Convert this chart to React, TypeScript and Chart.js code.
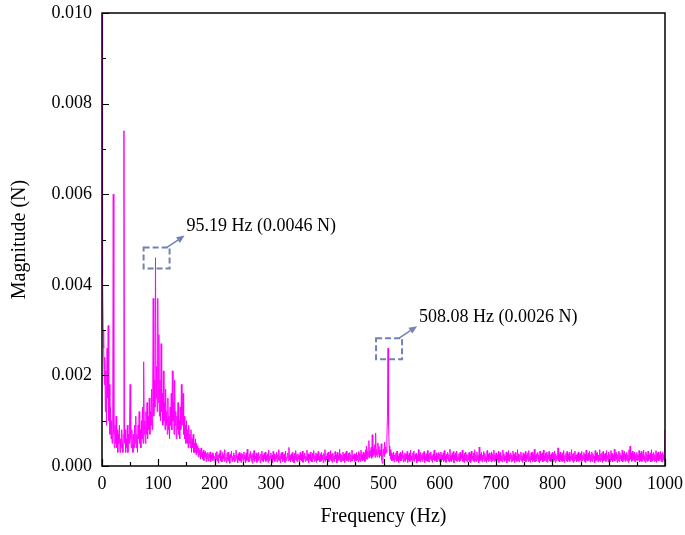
import { useEffect, useRef } from "react";
import { Chart, registerables } from "chart.js";

Chart.register(...registerables);

// Frequency bins (Hz) are spaced FREQ_STEP_HZ apart starting at 0 Hz
const FREQ_STEP_HZ = 1;
// Magnitudes are written in units of 1e-4 N
const MAG_UNIT = 1e-4;

const MAG_0_49 = [110, 42, 30, 26, 18, 24, 12, 21, 9, 26, 15, 31, 10, 18, 7, 13, 6, 10, 5, 8, 60, 7, 4, 9, 5, 11, 4, 8, 3, 7, 5, 9, 3, 6, 4, 8, 5, 3, 7, 74, 5, 8, 3, 6, 4, 9, 3, 7, 5, 10];
const MAG_50_99 = [18, 6, 4, 8, 5, 3, 7, 4, 9, 5, 11, 4, 7, 3, 9, 6, 12, 5, 8, 4, 10, 6, 13, 5, 23, 7, 10, 5, 12, 7, 14, 6, 11, 8, 15, 7, 12, 9, 17, 8, 14, 37, 11, 19, 13, 46, 15, 22, 12, 37];
const MAG_100_149 = [14, 29, 11, 19, 10, 27, 12, 16, 9, 21, 10, 14, 8, 17, 9, 12, 7, 15, 8, 11, 6, 13, 9, 16, 8, 21, 10, 14, 7, 19, 9, 12, 6, 11, 8, 14, 7, 10, 6, 13, 8, 18, 9, 12, 16, 7, 11, 6, 9, 5];
const MAG_150_199 = [10, 5, 8, 4, 9, 5, 7, 4, 8, 3, 6, 4, 7, 3, 5, 3, 6, 2.5, 5, 3, 4.5, 2, 4, 2.5, 3.5, 1.5, 4, 2, 3, 1.5, 3.5, 1.2, 3, 2, 3.2, 1, 2.8, 1.6, 3, 1.1, 2.6, 1.8, 3.1, 0.9, 2.4, 1.5, 2.9, 1.2, 2.5, 1.7];
const MAG_200_249 = [2.1, 0.8, 2.9, 1.4, 3.2, 1.1, 2.4, 0.7, 2.7, 1.9, 3.4, 1.2, 2.2, 0.9, 3.0, 1.6, 2.5, 1.0, 3.6, 1.3, 2.0, 0.8, 2.8, 1.5, 3.1, 1.1, 2.3, 0.6, 2.6, 1.8, 3.3, 1.0, 2.1, 1.4, 2.9, 0.9, 2.4, 1.2, 3.5, 1.7, 2.2, 0.7, 2.7, 1.3, 3.0, 1.1, 2.5, 0.8, 2.8, 1.6];
const MAG_250_299 = [2.6, 1.0, 3.1, 1.5, 2.3, 0.7, 2.9, 1.2, 3.7, 1.4, 2.0, 0.9, 2.7, 1.8, 3.2, 1.1, 2.4, 0.6, 2.8, 1.3, 3.4, 1.0, 2.2, 1.6, 2.9, 0.8, 2.5, 1.2, 3.0, 1.9, 2.1, 0.7, 2.6, 1.4, 3.3, 1.1, 2.4, 0.9, 2.8, 1.5, 3.1, 1.0, 2.3, 1.3, 2.7, 0.8, 3.5, 1.2, 2.2, 1.7];
const MAG_300_349 = [2.9, 1.1, 2.4, 0.8, 3.2, 1.5, 2.6, 1.0, 2.1, 1.7, 3.0, 0.9, 2.5, 1.3, 3.6, 1.2, 2.2, 0.7, 2.8, 1.6, 3.1, 1.0, 2.4, 1.4, 2.7, 0.8, 3.3, 1.2, 2.0, 1.8, 2.9, 1.1, 4.1, 1.3, 2.3, 0.9, 2.6, 1.5, 3.0, 1.0, 2.2, 0.7, 2.8, 1.4, 3.4, 1.2, 2.5, 0.9, 2.7, 1.6];
const MAG_350_399 = [2.3, 0.9, 3.0, 1.4, 2.6, 1.1, 3.3, 0.8, 2.4, 1.7, 2.9, 1.0, 2.2, 1.3, 3.5, 1.2, 2.7, 0.7, 2.5, 1.5, 3.1, 1.1, 2.0, 0.9, 2.8, 1.6, 3.4, 1.0, 2.3, 1.3, 2.9, 0.8, 2.6, 1.2, 3.2, 1.4, 2.1, 0.9, 2.7, 1.1, 3.0, 1.5, 2.4, 0.7, 2.8, 1.3, 3.6, 1.0, 2.2, 1.4];
const MAG_400_449 = [2.8, 1.2, 3.1, 0.9, 2.4, 1.5, 3.4, 1.1, 2.6, 0.8, 2.9, 1.3, 2.2, 1.0, 3.2, 1.6, 2.5, 0.7, 3.0, 1.2, 2.3, 1.4, 3.7, 1.0, 2.7, 0.9, 2.4, 1.3, 3.1, 1.1, 2.6, 0.8, 2.9, 1.5, 3.3, 1.2, 2.1, 1.0, 2.8, 1.4, 3.0, 0.9, 2.5, 1.2, 3.5, 1.1, 2.3, 1.6, 2.7, 1.0];
const MAG_450_499 = [2.6, 1.1, 3.0, 1.4, 2.4, 0.9, 3.2, 1.3, 2.8, 1.0, 3.5, 1.5, 2.5, 1.2, 3.1, 1.4, 2.7, 1.0, 3.6, 1.6, 4.4, 1.5, 3.2, 2.0, 5.6, 1.8, 3.4, 2.2, 4.1, 1.7, 6.9, 2.1, 3.8, 2.5, 4.7, 1.9, 7.3, 2.4, 3.6, 2.0, 5.1, 2.6, 4.3, 1.8, 3.5, 2.3, 4.9, 1.4, 0.6, 2.2];
const MAG_500_549 = [3.8, 2.1, 5.3, 2.7, 4.2, 3.0, 6.1, 11, 26, 9, 4.4, 2.3, 3.6, 1.5, 2.9, 1.1, 2.5, 1.3, 3.1, 0.9, 2.4, 1.6, 2.8, 1.0, 3.3, 1.2, 2.2, 0.8, 2.7, 1.4, 3.0, 1.1, 2.5, 1.7, 3.4, 0.9, 2.3, 1.2, 2.9, 1.0, 2.6, 1.5, 3.2, 0.8, 2.4, 1.3, 2.8, 1.0, 3.5, 1.4];
const MAG_550_599 = [2.2, 0.9, 2.9, 1.3, 3.3, 1.0, 2.5, 1.6, 2.8, 0.7, 2.3, 1.2, 3.6, 1.1, 2.6, 0.9, 3.0, 1.4, 2.4, 1.0, 2.9, 1.5, 3.2, 0.8, 2.1, 1.3, 2.7, 1.1, 3.4, 1.0, 2.5, 0.9, 2.8, 1.6, 3.1, 1.2, 2.3, 0.8, 2.6, 1.4, 3.5, 1.1, 2.2, 1.3, 2.9, 0.9, 2.4, 1.5, 3.0, 1.0];
const MAG_600_649 = [2.7, 1.2, 3.1, 0.9, 2.4, 1.4, 2.9, 1.0, 3.4, 1.3, 2.2, 0.8, 2.6, 1.6, 3.0, 1.1, 2.5, 0.9, 3.7, 1.2, 2.3, 1.0, 2.8, 1.5, 3.2, 0.7, 2.4, 1.3, 2.9, 1.1, 3.3, 1.0, 2.1, 1.4, 2.7, 0.9, 3.0, 1.2, 2.5, 1.6, 3.5, 1.0, 2.3, 0.8, 2.8, 1.3, 3.1, 1.1, 2.6, 0.9];
const MAG_650_699 = [2.4, 1.3, 3.0, 1.0, 2.7, 0.8, 3.3, 1.5, 2.2, 1.1, 2.9, 0.9, 3.6, 1.2, 2.5, 1.0, 3.1, 1.4, 2.3, 0.7, 4.2, 1.1, 2.6, 1.3, 3.0, 0.9, 2.4, 1.6, 3.2, 1.0, 2.8, 1.2, 2.1, 0.8, 3.4, 1.3, 2.6, 1.0, 2.9, 1.5, 2.3, 0.9, 3.1, 1.1, 2.7, 1.4, 3.5, 1.0, 2.5, 1.2];
const MAG_700_749 = [2.9, 1.0, 2.4, 1.4, 3.2, 0.8, 2.6, 1.2, 3.0, 1.1, 2.3, 0.9, 3.5, 1.5, 2.7, 1.0, 2.2, 1.3, 3.1, 0.7, 2.8, 1.2, 3.4, 1.0, 2.5, 1.6, 2.9, 0.9, 2.4, 1.1, 3.3, 1.3, 2.6, 0.8, 3.0, 1.4, 2.2, 1.0, 3.6, 1.2, 2.7, 0.9, 2.5, 1.5, 3.1, 1.1, 2.3, 0.8, 2.9, 1.3];
const MAG_750_799 = [2.6, 1.1, 3.2, 0.9, 2.4, 1.5, 2.8, 1.0, 3.4, 1.2, 2.1, 0.8, 2.9, 1.4, 3.1, 1.0, 2.5, 1.3, 3.7, 0.9, 2.3, 1.1, 2.7, 1.6, 3.0, 1.0, 2.4, 0.7, 3.3, 1.2, 2.6, 1.4, 2.9, 0.9, 3.5, 1.1, 2.2, 1.3, 2.8, 1.0, 3.1, 0.8, 2.5, 1.5, 3.2, 1.1, 2.4, 0.9, 2.7, 1.2];
const MAG_800_849 = [3.0, 1.0, 2.5, 1.3, 3.3, 0.8, 2.7, 1.2, 2.2, 1.5, 4.0, 1.1, 2.6, 0.9, 3.1, 1.4, 2.4, 1.0, 2.9, 1.2, 3.4, 0.8, 2.3, 1.6, 2.8, 1.1, 3.2, 0.9, 2.5, 1.3, 3.0, 1.0, 2.1, 1.4, 3.6, 1.2, 2.6, 0.8, 2.9, 1.1, 3.3, 1.5, 2.4, 0.9, 2.7, 1.2, 3.1, 1.0, 2.5, 1.3];
const MAG_850_899 = [2.8, 0.9, 3.2, 1.2, 2.4, 1.5, 3.0, 1.0, 2.6, 0.8, 3.5, 1.3, 2.3, 1.1, 2.9, 1.4, 3.3, 0.9, 2.5, 1.2, 3.1, 1.0, 2.7, 1.6, 2.2, 0.7, 3.4, 1.1, 2.8, 1.3, 3.0, 0.9, 2.4, 1.2, 3.6, 1.0, 2.6, 1.4, 2.9, 0.8, 3.2, 1.1, 2.5, 1.3, 2.8, 1.0, 3.4, 1.5, 2.3, 0.9];
const MAG_900_949 = [3.1, 1.2, 2.6, 1.0, 3.4, 1.4, 2.8, 0.9, 2.4, 1.3, 3.7, 1.1, 2.7, 1.5, 3.0, 0.8, 2.5, 1.2, 3.3, 1.0, 2.9, 1.6, 2.3, 1.1, 3.5, 0.9, 2.8, 1.4, 3.2, 1.0, 2.6, 1.3, 3.0, 1.1, 2.4, 0.8, 3.6, 1.2, 4.4, 1.5, 2.9, 1.0, 3.3, 1.4, 2.7, 1.1, 3.1, 0.9, 2.6, 1.3];
const MAG_950_1000 = [3.0, 1.1, 2.5, 1.4, 3.4, 0.9, 2.8, 1.2, 3.2, 1.0, 2.6, 1.5, 3.5, 1.1, 2.3, 0.8, 3.1, 1.3, 2.7, 1.0, 3.3, 1.2, 2.4, 1.6, 2.9, 0.9, 3.6, 1.1, 2.6, 1.4, 3.0, 1.0, 2.5, 1.2, 3.4, 0.8, 2.8, 1.3, 3.1, 1.1, 2.4, 1.5, 3.2, 1.0, 2.7, 0.9, 3.0, 1.4, 2.5, 1.2, 8];

const MAGNITUDES = [
  ...MAG_0_49, ...MAG_50_99, ...MAG_100_149, ...MAG_150_199, ...MAG_200_249,
  ...MAG_250_299, ...MAG_300_349, ...MAG_350_399, ...MAG_400_449, ...MAG_450_499,
  ...MAG_500_549, ...MAG_550_599, ...MAG_600_649, ...MAG_650_699, ...MAG_700_749,
  ...MAG_750_799, ...MAG_800_849, ...MAG_850_899, ...MAG_900_949, ...MAG_950_1000,
];

const PEAK_FREQS = [95.19, 508.08];
const PEAK_MAGS = [0.0046, 0.0026];
const PEAK_LABELS = ["95.19 Hz (0.0046 N)", "508.08 Hz (0.0026 N)"];

const X_MIN = 0, X_MAX = 1000, X_STEP = 100;
const Y_MIN = 0, Y_MAX = 0.01, Y_STEP = 0.002;

const FONT = "'Liberation Serif', 'Times New Roman', serif";
const ANNOT_COLOR = "#7282b4";

const framePlugin = {
  id: "frame",
  afterDatasetsDraw(chart: any) {
    const { ctx, chartArea: a, scales } = chart;
    const xs = scales.x, ys = scales.y;
    ctx.save();
    ctx.strokeStyle = "#000";
    ctx.lineWidth = 1.5;
    ctx.strokeRect(a.left, a.top, a.right - a.left, a.bottom - a.top);
    ctx.lineWidth = 1.2;
    ctx.beginPath();
    for (let k = 0; k <= 20; k++) {
      const v = X_MIN + (k * X_STEP) / 2;
      const px = Math.round(xs.getPixelForValue(v)) + 0.5;
      const len = k % 2 === 0 ? 7 : 4;
      ctx.moveTo(px, a.bottom);
      ctx.lineTo(px, a.bottom - len);
    }
    for (let k = 0; k <= 10; k++) {
      const v = Y_MIN + (k * Y_STEP) / 2;
      const py = Math.round(ys.getPixelForValue(v)) + 0.5;
      const len = k % 2 === 0 ? 7 : 4;
      ctx.moveTo(a.left, py);
      ctx.lineTo(a.left + len, py);
    }
    ctx.stroke();

    PEAK_FREQS.forEach((f, i) => {
      const px = xs.getPixelForValue(f);
      const py = ys.getPixelForValue(PEAK_MAGS[i]);
      const bw = 26, bh = 21;
      const bx = px - 12, by = py - 10;
      ctx.strokeStyle = ANNOT_COLOR;
      ctx.fillStyle = ANNOT_COLOR;
      ctx.lineWidth = 2;
      ctx.setLineDash([6, 3]);
      ctx.strokeRect(bx, by, bw, bh);
      ctx.setLineDash([]);
      const x0 = bx + bw - 3, y0 = by;
      const x1 = bx + bw + 15, y1 = by - 12;
      const ang = Math.atan2(y1 - y0, x1 - x0);
      const hl = 8, hw = 3.5;
      const bxh = x1 - hl * Math.cos(ang), byh = y1 - hl * Math.sin(ang);
      ctx.lineWidth = 1.5;
      ctx.beginPath();
      ctx.moveTo(x0, y0);
      ctx.lineTo(bxh, byh);
      ctx.stroke();
      ctx.beginPath();
      ctx.moveTo(x1, y1);
      ctx.lineTo(bxh + hw * Math.sin(ang), byh - hw * Math.cos(ang));
      ctx.lineTo(bxh - hw * Math.sin(ang), byh + hw * Math.cos(ang));
      ctx.closePath();
      ctx.fill();
      ctx.fillStyle = "#000";
      ctx.font = `18px ${FONT}`;
      ctx.textAlign = "left";
      ctx.textBaseline = "middle";
      ctx.fillText(PEAK_LABELS[i], bx + bw + 17, by - 21);
    });
    ctx.restore();
  },
};

export default function App() {
  const ref = useRef<HTMLCanvasElement | null>(null);
  useEffect(() => {
    if (!ref.current) return;
    const points = MAGNITUDES.map((m, i) => ({ x: i * FREQ_STEP_HZ, y: m * MAG_UNIT }));
    const chart = new Chart(ref.current, {
      type: "line",
      data: {
        datasets: [
          {
            data: points,
            borderColor: "#ff00ff",
            borderWidth: 1,
            pointRadius: 0,
            tension: 0,
            fill: false,
          },
        ],
      },
      options: {
        animation: false,
        responsive: false,
        events: [],
        layout: { padding: { top: 13, right: 20, left: 0, bottom: 0 } },
        plugins: { legend: { display: false }, tooltip: { enabled: false } },
        scales: {
          x: {
            type: "linear",
            min: X_MIN,
            max: X_MAX,
            grid: { display: false, drawTicks: false },
            border: { display: false },
            ticks: {
              stepSize: X_STEP,
              padding: 7,
              maxRotation: 0,
              color: "#000",
              font: { family: FONT, size: 18 },
              callback: (v: any) => String(v),
            },
            title: {
              display: true,
              text: "Frequency (Hz)",
              color: "#000",
              font: { family: FONT, size: 20 },
              padding: { top: 0, bottom: 6 },
            },
            afterFit: (s: any) => {
              s.height = 69;
              s.paddingLeft = 0;
              s.paddingRight = 0;
            },
          },
          y: {
            type: "linear",
            min: Y_MIN,
            max: Y_MAX,
            grid: { display: false, drawTicks: false },
            border: { display: false },
            ticks: {
              stepSize: Y_STEP,
              padding: 10,
              color: "#000",
              font: { family: FONT, size: 18 },
              callback: (v: any) => Number(v).toFixed(3),
            },
            title: {
              display: true,
              text: "Magnitude (N)",
              color: "#000",
              font: { family: FONT, size: 20 },
              padding: { top: 8, bottom: 0 },
            },
            afterFit: (s: any) => {
              s.width = 102;
              s.paddingTop = 0;
              s.paddingBottom = 0;
            },
          },
        },
      },
      plugins: [framePlugin],
    });
    return () => chart.destroy();
  }, []);
  return (
    <canvas
      ref={ref}
      width={685}
      height={535}
      style={{ position: "absolute", left: 0, top: 0, display: "block", background: "#fff" }}
    />
  );
}
